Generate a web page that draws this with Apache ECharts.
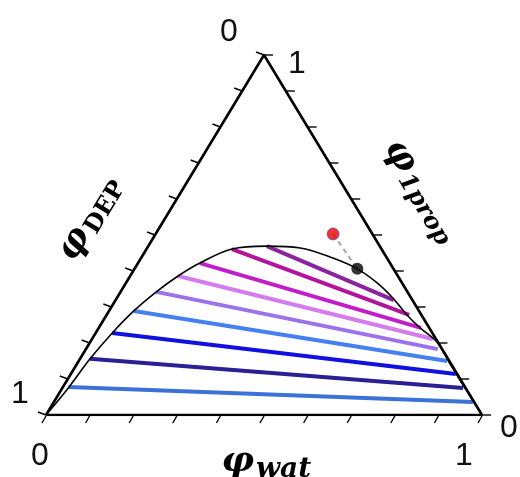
<!DOCTYPE html>
<html><head><meta charset="utf-8">
<script src="https://cdn.jsdelivr.net/npm/echarts@6/dist/echarts.min.js"></script>
<style>html,body{margin:0;padding:0;background:#fff}#c{width:520px;height:477px}</style>
</head><body><div id="c"></div>
<script>
// Ternary compositions given as [phi_wat, phi_1prop]; phi_DEP = 1 - wat - prop
const binodal = [[0,0],[0.014,0.078],[0.023,0.156],[0.038,0.228],[0.057,0.289],[0.082,0.342],[0.110,0.386],[0.142,0.422],[0.196,0.461],[0.272,0.469],[0.351,0.464],[0.440,0.436],[0.511,0.406],[0.576,0.367],[0.633,0.325],[0.689,0.278],[0.737,0.242],[0.795,0.203],[0.850,0.148],[0.900,0.098],[0.950,0.049],[1,0]];
const tieLeft  = [[0.012,0.078],[0.023,0.156],[0.038,0.228],[0.057,0.289],[0.082,0.342],[0.110,0.386],[0.142,0.422],[0.196,0.461],[0.272,0.469]];
const tieRight = [[0.961,0.036],[0.919,0.075],[0.883,0.114],[0.845,0.150],[0.807,0.183],[0.782,0.211],[0.739,0.242],[0.694,0.278],[0.638,0.319]];
const tieColors = ['#3b72d8','#2b1f94','#1010e0','#4480f0','#9a72ea','#d57bee','#c21ec8','#b3149c','#8a239e'];
const feedPoint = [0.407,0.503];
const cloudPoint = [0.511,0.406];
const tickValues = [0,0.1,0.2,0.3,0.4,0.5,0.6,0.7,0.8,0.9,1];
const vertices = [[0,0],[1,0],[0,1],[0,0]];
const watEndLabels = ['0','1'];   // at wat=0, wat=1
const depEndLabels = ['0','1'];   // at top (DEP=0), bottom-left (DEP=1)
const propEndLabels = ['1','0'];  // at top (prop=1), bottom-right (prop=0)

function toXY(t){ return [t[0] + t[1]/2, t[1]]; }

const series = [];
series.push({type:'line', data: vertices.map(toXY), symbol:'none', lineStyle:{color:'#000', width:2.6}, z:5});
tieLeft.forEach((l,i)=>{
  series.push({type:'line', data:[toXY(l), toXY(tieRight[i])], symbol:'none', lineStyle:{color:tieColors[i], width:4}, z:2});
});
series.push({type:'line', data: binodal.map(toXY), symbol:'none', smooth:0.35, lineStyle:{color:'#000', width:1.6}, z:3});
series.push({type:'line', data:[toXY(feedPoint), toXY(cloudPoint)], symbol:'none', lineStyle:{color:'#a8a8a8', width:2, type:[5,4]}, z:3});
series.push({type:'scatter', data:[toXY(feedPoint)], symbolSize:12, itemStyle:{color:'#ee0000', borderColor:'#4a5aa8', borderWidth:1}, z:6});
series.push({type:'scatter', data:[toXY(cloudPoint)], symbolSize:12, itemStyle:{color:'#000'}, z:6});

function renderDecor(params, api){
  const P = t => api.coord(toXY(t));
  const ch = [];
  const ts = {stroke:'#000', lineWidth:1.4};
  tickValues.forEach(v=>{
    const b = P([v,0]);
    ch.push({type:'line', shape:{x1:b[0],y1:b[1]+1,x2:b[0]-4,y2:b[1]+8}, style:ts});
    const r = P([1-v,v]);
    ch.push({type:'line', shape:{x1:r[0],y1:r[1],x2:r[0]+9,y2:r[1]}, style:ts});
    const l = P([0,1-v]);
    ch.push({type:'line', shape:{x1:l[0],y1:l[1],x2:l[0]-8,y2:l[1]-3}, style:ts});
  });
  const num = (txt, p, dx, dy) => ({type:'text', x:p[0]+dx, y:p[1]+dy,
    style:{text:txt, fontSize:32, fontFamily:'Liberation Sans, Arial', fill:'#111', align:'center', verticalAlign:'middle'}});
  const BL = P([0,0]), BR = P([1,0]), TOP = P([0,1]);
  ch.push(num(watEndLabels[0], BL, -6, 41));
  ch.push(num(watEndLabels[1], BR, -18, 41));
  ch.push(num(depEndLabels[0], TOP, -35, -23));
  ch.push(num(depEndLabels[1], BL, -26, -21));
  ch.push(num(propEndLabels[0], TOP, 33, 9));
  ch.push(num(propEndLabels[1], BR, 27, 13));
  const ang = Math.atan2(BL[1]-TOP[1], TOP[0]-BL[0]);
  const title = (x, y, rot, sub, subItalic, subSize) => ({type:'group', x, y, rotation:rot, children:[
    {type:'text', x:-2, y:0, style:{text:'φ', fontSize:36, fontWeight:'bold', fontStyle:'italic', fontFamily:'DejaVu Serif', fill:'#000', align:'right', verticalAlign:'middle'}},
    {type:'text', x:0, y:8, style:{text:sub, fontSize:subSize, fontWeight:'bold', fontStyle: subItalic?'italic':'normal', fontFamily:'DejaVu Serif', fill:'#000', align:'left', verticalAlign:'middle'}}
  ]});
  ch.push(title(256, 462, 0, 'wat', true, 28));
  ch.push(title(84, 228, ang, 'DEP', false, 24));
  ch.push(title(410, 172, -ang, '1prop', true, 24));
  return {type:'group', children:ch};
}
series.push({type:'custom', data:[0], renderItem: renderDecor, z:7, silent:true, clip:false});

const chart = echarts.init(document.getElementById('c'));
chart.setOption({
  animation:false,
  backgroundColor:'#fff',
  grid:{left:46, top:55, width:436, height:360},
  xAxis:{type:'value', min:0, max:1, show:false},
  yAxis:{type:'value', min:0, max:1, show:false},
  series
});
</script></body></html>
